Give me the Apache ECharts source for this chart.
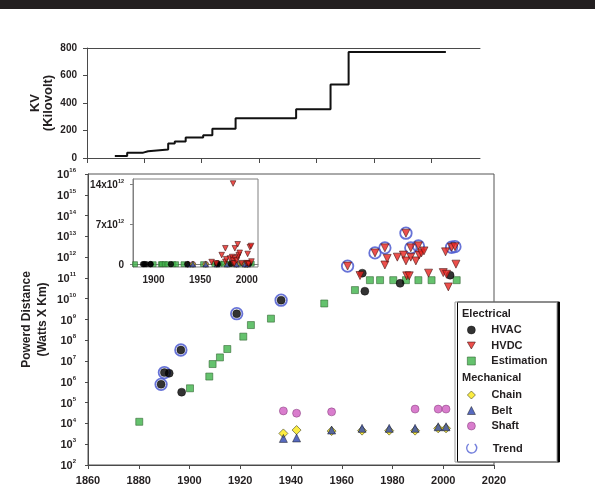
<!DOCTYPE html>
<html><head><meta charset="utf-8">
<script src="https://cdn.jsdelivr.net/npm/echarts@6/dist/echarts.min.js"></script>
<style>html,body{margin:0;padding:0;background:#fff}#c{width:595px;height:487px}</style>
</head><body><div id="c"></div>
<script>
// ---- KV (top panel) ----
const kvYears  = [1869.7, 1874.0, 1879.6, 1881.3, 1888.3, 1890.6, 1894.4, 1900.5, 1903.7, 1911.8, 1932.9, 1944.9, 1951.2, 1985.1];
const kvValues = [15, 39, 49, 61, 105, 120, 149, 166, 212, 290, 354, 534, 771, 771];
const kvXTicks = [1860, 1880, 1900, 1920, 1940, 1960, 1980];

// ---- Electrical ----
const hvacYears  = [1888.8, 1890.1, 1892.0, 1896.6, 1896.9, 1918.6, 1936.1, 1968.1, 1969.1, 1983.0, 2002.7];
const hvacValues = [7.6e5, 2.8e6, 2.6e6, 3.4e7, 3.2e5, 1.9e9, 8.5e9, 1.7e11, 2.3e10, 5.5e10, 1.35e11];

const hvdcYears  = [1962.3, 1967.2, 1973.1, 1977.0, 1977.0, 1977.9, 1981.9, 1984.3, 1985.3, 1985.3, 1985.6, 1986.6, 1987.2, 1987.2, 1989.2, 1990.2, 1990.5, 1991.4, 1992.4, 1994.2, 2000.0, 2000.9, 2001.3, 2002.0, 2003.3, 2004.6, 2005.0];
const hvdcValues = [3.7e11, 1.3e11, 1.6e12, 2.8e12, 4.2e11, 8.7e11, 1.0e12, 1.26e12, 1.42e13, 6.6e11, 1.26e11, 1.26e11, 2.8e12, 1.0e12, 6.6e11, 3.5e12, 1.26e12, 1.6e12, 2.0e12, 1.7e11, 1.8e11, 1.8e12, 1.5e11, 3.7e10, 3.0e12, 3.2e12, 4.6e11];

const estYears  = [1880.2, 1900.2, 1907.8, 1909.1, 1912.0, 1914.9, 1921.2, 1924.2, 1932.1, 1953.1, 1965.2, 1971.1, 1975.1, 1980.3, 1985.3, 1990.2, 1995.4, 2005.3];
const estValues = [1.2e4, 4.9e5, 1.8e6, 7.2e6, 1.5e7, 3.8e7, 1.5e8, 5.4e8, 1.1e9, 5.9e9, 2.6e10, 7.8e10, 7.8e10, 7.8e10, 7.8e10, 7.8e10, 7.8e10, 7.8e10];

// ---- Mechanical ----
const chainYears  = [1937.0, 1942.2, 1956.0, 1968.0, 1978.7, 1988.9, 1998.0, 2001.1];
const chainValues = [3.3e3, 4.8e3, 4.3e3, 4.5e3, 4.5e3, 4.5e3, 5.8e3, 5.8e3];
const beltYears   = [1937.0, 1942.2, 1956.0, 1968.0, 1978.7, 1988.9, 1998.0, 2001.1];
const beltValues  = [1.9e3, 2.0e3, 4.8e3, 5.8e3, 5.8e3, 5.8e3, 6.9e3, 6.9e3];
const shaftYears  = [1937.0, 1942.2, 1956.0, 1988.9, 1998.0, 2001.1];
const shaftValues = [4.0e4, 3.1e4, 3.6e4, 4.9e4, 4.9e4, 4.9e4];

// ---- Trend (ringed points) ----
const trendYears  = [1888.8, 1890.1, 1896.6, 1918.6, 1936.1, 1962.3, 1973.1, 1977.0, 1985.3, 1987.2, 1990.2, 2003.3, 2004.6];
const trendValues = [7.6e5, 2.8e6, 3.4e7, 1.9e9, 8.5e9, 3.7e11, 1.6e12, 2.8e12, 1.42e13, 2.8e12, 3.5e12, 3.0e12, 3.2e12];

// ---- Inset ticks ----
const insetXTicks = [1900, 1950, 2000];
const insetYTicks = [0, 7e12, 14e12];

const F = '"Liberation Sans", Arial, Helvetica, sans-serif';
const TXT = '#231f20';
const AX = '#4a4a4a';
function pairs(xs, ys) { return xs.map((x, i) => [x, ys[i]]); }
const boldLbl = (size) => ({ fontFamily: F, fontWeight: 'bold', fontSize: size, color: TXT });
const plain = v => String(v);

const styles = {
  HVAC:       { symbol: 'circle', size: 8, rot: 0, item: { color: '#000', borderColor: '#000', borderWidth: 0.5 } },
  HVDC:       { symbol: 'triangle', size: 8, rot: 180, item: { color: '#e8231e', borderColor: '#3a1010', borderWidth: 0.7 } },
  Estimation: { symbol: 'rect', size: 7, rot: 0, item: { color: '#3fb34a', borderColor: '#2b5f2b', borderWidth: 0.7 } },
  Chain:      { symbol: 'diamond', size: 9, rot: 0, item: { color: '#fbe812', borderColor: '#4a4a2a', borderWidth: 0.8 } },
  Belt:       { symbol: 'triangle', size: 8, rot: 0, item: { color: '#2d45b0', borderColor: '#111', borderWidth: 0.6 } },
  Shaft:      { symbol: 'circle', size: 8, rot: 0, item: { color: '#cf5cc0', borderColor: '#7a3372', borderWidth: 0.6 } }
};
const dataSets = {
  HVAC: pairs(hvacYears, hvacValues),
  HVDC: pairs(hvdcYears, hvdcValues),
  Estimation: pairs(estYears, estValues),
  Chain: pairs(chainYears, chainValues),
  Belt: pairs(beltYears, beltValues),
  Shaft: pairs(shaftYears, shaftValues)
};
const order = ['Estimation', 'Shaft', 'Chain', 'Belt', 'HVAC', 'HVDC'];

const series = [];
series.push({
  type: 'line', xAxisIndex: 0, yAxisIndex: 0, step: 'end', showSymbol: false, symbol: 'none',
  data: pairs(kvYears, kvValues), lineStyle: { color: '#111', width: 2 }, silent: true
});
series.push({
  name: 'Trend', type: 'scatter', xAxisIndex: 2, yAxisIndex: 1, symbol: 'circle', symbolSize: 11.5, z: 1,
  data: pairs(trendYears, trendValues),
  itemStyle: { color: 'rgba(0,0,0,0)', borderColor: '#4c5bd0', borderWidth: 1.8, opacity: 0.85 }
});
order.forEach(n => {
  const s = styles[n];
  series.push({ name: n, type: 'scatter', xAxisIndex: 2, yAxisIndex: 1, symbol: s.symbol, symbolSize: s.size,
    symbolRotate: s.rot, data: dataSets[n], itemStyle: s.item, z: 3 });
});
order.forEach(n => {
  const s = styles[n];
  series.push({ name: n, type: 'scatter', xAxisIndex: 3, yAxisIndex: 2, symbol: s.symbol, symbolSize: s.size * 0.7,
    symbolRotate: s.rot, data: dataSets[n], itemStyle: s.item, z: 6 });
});

const legendCommon = {
  orient: 'vertical', padding: 0, itemWidth: 8, itemHeight: 8, itemGap: 2.5, z: 12,
  textStyle: { fontFamily: F, fontWeight: 'bold', fontSize: 11, color: TXT, lineHeight: 13, padding: [0, 0, 0, 11] },
  selectedMode: false
};
const legItem = (name, icon, extra) => ({ name: name, icon: icon, itemStyle: Object.assign({}, styles[name] ? styles[name].item : {}, extra || {}) });

const option = {
  animation: false,
  backgroundColor: '#fff',
  grid: [
    { left: 87, top: 48, width: 393, height: 110 },
    { left: 88, top: 174, width: 406, height: 291, show: true, borderColor: '#555', borderWidth: 1 },
    { left: 133, top: 179, width: 125, height: 88, show: true, borderColor: '#808080', borderWidth: 1, backgroundColor: '#fff', z: 5 }
  ],
  xAxis: [
    { gridIndex: 0, type: 'value', min: 1860, max: 1997,
      axisLine: { lineStyle: { color: AX, width: 1 } },
      axisTick: { length: 5, lineStyle: { color: AX }, customValues: kvXTicks },
      axisLabel: { show: false }, splitLine: { show: false } },
    { gridIndex: 0, type: 'value', position: 'top', min: 1860, max: 1997,
      axisLine: { show: true, onZero: false, lineStyle: { color: AX, width: 1 } },
      axisTick: { show: false }, axisLabel: { show: false }, splitLine: { show: false } },
    { gridIndex: 1, type: 'value', min: 1860, max: 2020, interval: 20,
      axisLine: { lineStyle: { color: AX, width: 1 } },
      axisTick: { length: 4, lineStyle: { color: AX } },
      axisLabel: Object.assign({ margin: 10, formatter: plain }, boldLbl(11)), splitLine: { show: false } },
    { gridIndex: 2, type: 'value', min: 1878, max: 2012, z: 6,
      axisLine: { lineStyle: { color: '#808080', width: 1 } },
      axisTick: { show: false },
      axisLabel: Object.assign({ margin: 8, customValues: insetXTicks, formatter: plain }, boldLbl(10)), splitLine: { show: false } }
  ],
  yAxis: [
    { gridIndex: 0, type: 'value', min: 0, max: 800, interval: 200,
      name: 'KV\n(Kilovolt)', nameLocation: 'middle', nameGap: 32, nameMoveOverlap: false,
      nameTextStyle: { fontFamily: F, fontWeight: 'bold', fontSize: 13, color: TXT, lineHeight: 13 },
      axisLine: { show: true, lineStyle: { color: AX, width: 1 } },
      axisTick: { show: true, length: 4, lineStyle: { color: AX } },
      axisLabel: Object.assign({ margin: 10 }, boldLbl(10)), splitLine: { show: false } },
    { gridIndex: 1, type: 'log', logBase: 10, min: 1e2, max: 1e16, interval: 1,
      name: 'Powerd Distance\n(Watts X Km)', nameLocation: 'middle', nameGap: 37.5, nameMoveOverlap: false,
      nameTextStyle: { fontFamily: F, fontWeight: 'bold', fontSize: 12, color: TXT, lineHeight: 16 },
      axisLine: { show: true, lineStyle: { color: AX, width: 1 } },
      axisTick: { show: true, length: 3, lineStyle: { color: AX } },
      axisLabel: {
        margin: 12,
        formatter: v => '{b|10}{e|' + Math.round(Math.log10(v)) + '}',
        rich: {
          b: { fontFamily: F, fontWeight: 'bold', fontSize: 11, color: TXT, verticalAlign: 'bottom', lineHeight: 13 },
          e: { fontFamily: F, fontWeight: 'bold', fontSize: 6, color: TXT, verticalAlign: 'top', lineHeight: 13 }
        }
      },
      splitLine: { show: false } },
    { gridIndex: 2, type: 'value', min: -0.5e12, max: 15e12, z: 6,
      axisLine: { show: true, lineStyle: { color: '#808080', width: 1 } },
      axisTick: { show: true, length: 3, lineStyle: { color: '#808080' }, customValues: insetYTicks },
      axisLabel: {
        margin: 9, customValues: insetYTicks,
        formatter: v => v === 0 ? '{b|0}' : '{b|' + Math.round(v / 1e12) + 'x10}{e|12}',
        rich: {
          b: { fontFamily: F, fontWeight: 'bold', fontSize: 10, color: TXT, verticalAlign: 'bottom', lineHeight: 12 },
          e: { fontFamily: F, fontWeight: 'bold', fontSize: 5.5, color: TXT, verticalAlign: 'top', lineHeight: 12 }
        }
      },
      splitLine: { show: false } }
  ],
  legend: [
    Object.assign({ left: 467, top: 323.5, data: [
      legItem('HVAC', 'circle'),
      legItem('HVDC', 'path://M0,0L10,0L5,8.66Z'),
      legItem('Estimation', 'path://M1,1L9,1L9,9L1,9Z')
    ] }, legendCommon),
    Object.assign({ left: 467, top: 388.5, data: [
      legItem('Chain', 'diamond'),
      legItem('Belt', 'triangle'),
      legItem('Shaft', 'circle')
    ] }, legendCommon),
    Object.assign({ left: 466, top: 442, data: [
      { name: 'Trend', icon: 'path://M2,2A5,5,0,1,0,8,2', itemStyle: { color: 'rgba(0,0,0,0)', borderColor: '#5a68d6', borderWidth: 1.4 } }
    ] }, legendCommon, { itemWidth: 10, itemHeight: 10 })
  ],
  graphic: [
    { type: 'rect', z: 10, shape: { x: 0, y: 0, width: 595, height: 9 }, style: { fill: '#231f20' } },
    { type: 'rect', z: 10, shape: { x: 455, y: 302, width: 102, height: 160 },
      style: { fill: '#fff', stroke: '#9a9a9a', lineWidth: 1, shadowColor: '#000', shadowOffsetX: 2.5, shadowOffsetY: 0, shadowBlur: 0 } },
    { type: 'text', z: 11, x: 462, y: 308, style: { text: 'Electrical', font: 'bold 11px ' + F, fill: TXT } },
    { type: 'text', z: 11, x: 462, y: 372, style: { text: 'Mechanical', font: 'bold 11px ' + F, fill: TXT } }
  ],
  series: series
};
const chart = echarts.init(document.getElementById('c'));
chart.setOption(option);
</script>
</body></html>
